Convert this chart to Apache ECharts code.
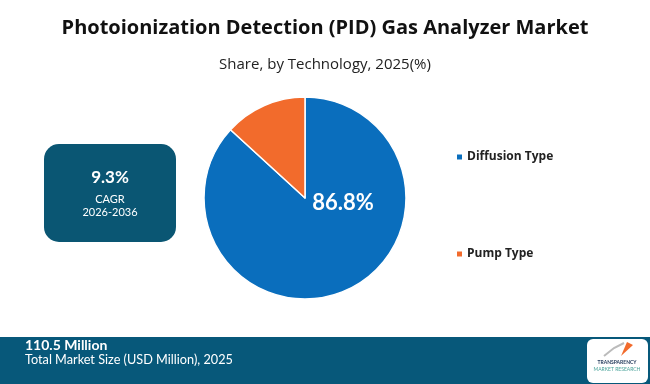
<html>
<head>
<meta charset="UTF-8">
<title>PID Gas Analyzer Market</title>
<style type="text/css">
  html, body { margin: 0; padding: 0; background: #fff; }
  #main { width: 650px; height: 384px; }
</style>
</head>
<body>
<div id="main"></div>
<script src="https://cdn.jsdelivr.net/npm/echarts@6/dist/echarts.min.js"></script>
<script type="text/javascript">
var categories = ['Diffusion Type', 'Pump Type'];
var shares = [86.8, 13.2];
var colors = ['#0a6ebd', '#f26b2c'];

var chart = echarts.init(document.getElementById('main'));

var option = {
  backgroundColor: '#ffffff',
  color: colors,
  title: [{
    text: 'Photoionization Detection (PID) Gas Analyzer Market',
    left: 'center',
    top: 13,
    textStyle: { fontFamily: 'Open Sans', fontWeight: 'bold', fontSize: 20, color: '#111' }
  }, {
    text: 'Share, by Technology, 2025(%)',
    left: 'center',
    top: 52,
    textStyle: { fontFamily: 'Open Sans', fontWeight: 'normal', fontSize: 15, color: '#222' }
  }],
  legend: {
    orient: 'vertical',
    left: 450,
    top: 146,
    itemWidth: 7,
    itemHeight: 7,
    itemGap: 85,
    icon: 'rect',
    data: categories,
    textStyle: { fontFamily: 'Open Sans', fontWeight: 'bold', fontSize: 12, color: '#222', padding: [0, 0, 0, -1] }
  },
  series: [{
    type: 'pie',
    center: [305, 198],
    radius: [0, 101],
    startAngle: 90,
    clockwise: true,
    silent: true,
    itemStyle: { borderColor: '#fff', borderWidth: 1.5 },
    label: {
      show: true,
      position: 'center',
      formatter: function (p) {
        return p.dataIndex === 0 ? p.value.toFixed(1) + '%' : '';
      },
      fontFamily: 'Lato',
      fontWeight: 'bold',
      fontSize: 22,
      color: '#fff'
    },
    labelLayout: { dx: 38, dy: 5 },
    labelLine: { show: false },
    data: categories.map(function (c, i) {
      return { name: c, value: shares[i] };
    })
  }],
  graphic: [
    {
      type: 'rect',
      shape: { x: 44, y: 144, width: 132, height: 98, r: 15 },
      style: { fill: '#0a5673' }
    },
    {
      type: 'text',
      style: { x: 110, y: 178, text: '9.3%', align: 'center', verticalAlign: 'middle',
        fill: '#fff', font: 'bold 17px Lato' }
    },
    {
      type: 'text',
      style: { x: 110, y: 199, text: 'CAGR', align: 'center', verticalAlign: 'middle',
        fill: '#fff', font: '11px Lato' }
    },
    {
      type: 'text',
      style: { x: 110, y: 212, text: '2026-2036', align: 'center', verticalAlign: 'middle',
        fill: '#fff', font: '11px Lato' }
    },
    {
      type: 'rect',
      shape: { x: 0, y: 337, width: 650, height: 47 },
      style: { fill: '#07587a' }
    },
    {
      type: 'text',
      style: { x: 25, y: 345, text: '110.5 Million', verticalAlign: 'middle',
        fill: '#fff', font: 'bold 14px Lato' }
    },
    {
      type: 'text',
      style: { x: 25, y: 360, text: 'Total Market Size (USD Million), 2025', verticalAlign: 'middle',
        fill: '#fff', font: '12.7px Lato' }
    },
    {
      type: 'rect',
      shape: { x: 587, y: 339, width: 61, height: 44, r: 6 },
      style: { fill: '#ffffff' }
    },
    {
      type: 'text',
      style: { x: 617, y: 362, text: 'TRANSPARENCY', align: 'center', verticalAlign: 'middle',
        fill: '#1d3557', font: 'bold 5px Lato' }
    },
    {
      type: 'text',
      style: { x: 617, y: 369, text: 'MARKET RESEARCH', align: 'center', verticalAlign: 'middle',
        fill: '#4aa39a', font: '5px Lato' }
    },
    {
      type: 'polyline',
      shape: { points: [[604, 356], [614, 348], [624, 343]] },
      style: { stroke: '#bbb', lineWidth: 2, fill: null }
    },
    {
      type: 'polygon',
      shape: { points: [[621, 356], [627, 342], [633, 345]] },
      style: { fill: '#f26b2c' }
    }
  ]
};

chart.setOption(option);
</script>
</body>
</html>
